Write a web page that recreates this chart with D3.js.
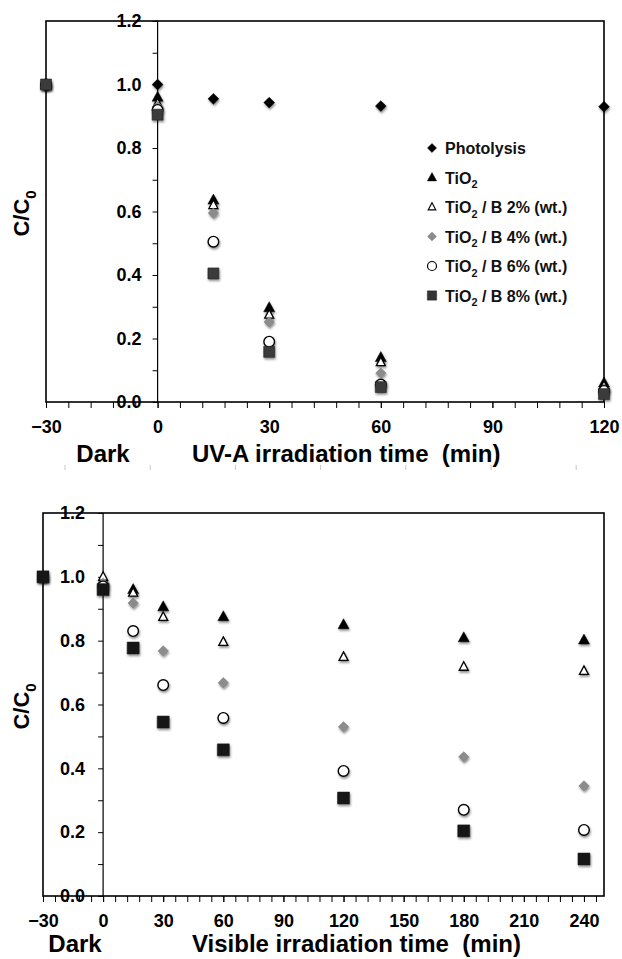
<!DOCTYPE html>
<html>
<head>
<meta charset="utf-8">
<script src="https://cdn.jsdelivr.net/npm/d3@7"></script>
<style>
  body { margin: 0; background: #fff; }
  svg { display: block; font-family: "Liberation Sans", Arial, sans-serif; }
  text { white-space: pre; }
</style>
</head>
<body>
<svg id="chart" width="622" height="959"></svg>
<script>
// series labels (legend shown on the UV-A panel only)
const seriesKeys = ["photo", "tio2", "b2", "b4", "b6", "b8"];
const seriesLabels = ["Photolysis", "TiO|2", "TiO|2| / B 2% (wt.)", "TiO|2| / B 4% (wt.)", "TiO|2| / B 6% (wt.)", "TiO|2| / B 8% (wt.)"];

// UV-A panel
const uvTime = [-30, 0, 15, 30, 60, 120];
const uvPhotolysis = [1.0, 1.0, 0.955, 0.943, 0.932, 0.930];
const uvTiO2 = [1.0, 0.96, 0.636, 0.297, 0.14, 0.06];
const uvB2 = [1.0, 0.94, 0.62, 0.275, 0.125, 0.05];
const uvB4 = [1.0, 0.93, 0.595, 0.252, 0.091, 0.04];
const uvB6 = [1.0, 0.92, 0.505, 0.19, 0.055, 0.035];
const uvB8 = [1.0, 0.905, 0.405, 0.158, 0.047, 0.025];

// Visible panel
const visTime = [-30, 0, 15, 30, 60, 120, 180, 240];
const visTiO2 = [1.0, 0.99, 0.96, 0.906, 0.875, 0.85, 0.809, 0.802];
const visB2 = [1.0, 1.0, 0.95, 0.874, 0.796, 0.749, 0.718, 0.705];
const visB4 = [1.0, 0.98, 0.918, 0.768, 0.668, 0.53, 0.436, 0.345];
const visB6 = [1.0, 0.97, 0.83, 0.661, 0.558, 0.392, 0.27, 0.207];
const visB8 = [1.0, 0.96, 0.777, 0.545, 0.458, 0.307, 0.204, 0.116];

const yTicks = [0, 0.1, 0.2, 0.3, 0.4, 0.5, 0.6, 0.7, 0.8, 0.9, 1.0, 1.1, 1.2];

const svg = d3.select("#chart");
const defs = svg.append("defs");
defs.append("filter").attr("id", "shadow")
    .attr("x", "-50%").attr("y", "-50%").attr("width", "200%").attr("height", "200%")
  .append("feDropShadow")
    .attr("dx", 0.8).attr("dy", 1.8).attr("stdDeviation", 1.1)
    .attr("flood-color", "#000").attr("flood-opacity", 0.45);

// marker shapes
function diamond(r) { return `M0,${-r}L${r},0L0,${r}L${-r},0Z`; }
function triangle(w, h) { return `M0,${-h * 0.6}L${w / 2},${h * 0.4}L${-w / 2},${h * 0.4}Z`; }
function square(s) { return `M${-s/2},${-s/2}h${s}v${s}h${-s}Z`; }
function circle(r) { return `M${-r},0a${r},${r} 0 1,0 ${2*r},0a${r},${r} 0 1,0 ${-2*r},0Z`; }

const styles = {
  photo: { d: diamond(5.4), fill: "#000", stroke: "#000", sw: 0.5 },
  tio2:  { d: triangle(11, 10), fill: "#000", stroke: "#000", sw: 0.5 },
  b2:    { d: triangle(9, 8.5), fill: "#fff", stroke: "#000", sw: 1.3 },
  b4:    { d: diamond(5.2), fill: "#8c8c8c", stroke: "#777", sw: 0.5 },
  b6:    { d: circle(5.3), fill: "#fff", stroke: "#000", sw: 1.4 },
  b8:    { d: square(11), fill: "#333", stroke: "#1a1a1a", sw: 0.5 }
};

function richText(sel, label, size) {
  label.split("|").forEach((part, i) => {
    if (part === "") return;
    const t = sel.append("tspan").text(part);
    if (i % 2 === 1) {
      t.attr("font-size", size * 0.68).attr("dy", size * 0.3);
    } else if (i > 0) {
      t.attr("dy", -size * 0.3);
    }
  });
}

function styleText(a) {
  a.selectAll("text").attr("font-size", 18).attr("font-weight", "bold")
    .attr("font-family", "Liberation Sans, Arial, sans-serif").attr("fill", "#000");
}

function panel(opts) {
  const x = d3.scaleLinear().domain(opts.xDomain).range([opts.left, opts.right]);
  const y = d3.scaleLinear().domain([0, 1.2]).range([opts.bottom, opts.top]);
  const g = svg.append("g");

  // frame
  g.append("rect")
    .attr("x", opts.left).attr("y", opts.top)
    .attr("width", opts.right - opts.left).attr("height", opts.bottom - opts.top)
    .attr("fill", "none").attr("stroke", "#000").attr("stroke-width", 1.6);

  // x axis: minor ticks every 6 min, labels every 30
  const xMinor = d3.range(opts.xDomain[0], opts.xDomain[1] + 0.1, 6);
  g.append("g")
    .attr("transform", `translate(0,${opts.bottom})`)
    .call(d3.axisBottom(x).tickValues(xMinor).tickSize(6).tickFormat(""))
    .call(a => a.select(".domain").remove())
    .call(a => a.selectAll("line").attr("stroke", "#000").attr("stroke-width", 1));
  g.append("g")
    .attr("transform", `translate(0,${opts.bottom})`)
    .call(d3.axisBottom(x).tickValues(opts.xMajor).tickSize(6).tickPadding(12))
    .call(a => a.select(".domain").remove())
    .call(a => a.selectAll("line").attr("stroke", "#000").attr("stroke-width", 1))
    .call(styleText);

  // y axis at t = 0
  g.append("g")
    .attr("transform", `translate(${x(0)},0)`)
    .call(d3.axisLeft(y).tickValues(yTicks).tickSize(5).tickPadding(opts.yPad)
      .tickFormat(d => Math.round(d * 10) % 2 === 0 ? d3.format(".1f")(d) : ""))
    .call(a => a.select(".domain").attr("stroke", "#000").attr("stroke-width", 1.2)
      .attr("d", `M0,${opts.bottom}V${opts.top}`))
    .call(a => a.selectAll("line").attr("stroke", "#000"))
    .call(styleText);

  // y title
  const yt = g.append("text")
    .attr("transform", `translate(${opts.yTitleX},${y(0.6) + 2}) rotate(-90)`)
    .attr("text-anchor", "middle").attr("font-size", 22).attr("font-weight", "bold");
  richText(yt, "C/C|0", 22);

  // x titles
  g.append("text").attr("x", opts.darkX).attr("y", opts.titleY)
    .attr("text-anchor", "middle").attr("font-size", 24).attr("font-weight", "bold")
    .text("Dark");
  g.append("text").attr("x", opts.titleX).attr("y", opts.titleY)
    .attr("font-size", 24).attr("font-weight", "bold")
    .text(opts.title);

  // markers
  opts.series.forEach(s => {
    const st = Object.assign({}, styles[s.key], s.override || {});
    g.append("g").selectAll("path")
      .data(opts.time.map((t, i) => ({ t: t, v: s.values[i] })))
      .join("path")
      .attr("d", st.d)
      .attr("transform", d => `translate(${x(d.t)},${y(d.v)})`)
      .attr("fill", st.fill).attr("stroke", st.stroke).attr("stroke-width", st.sw)
      .attr("filter", "url(#shadow)");
  });
  return { x, y, g };
}

panel({
  xDomain: [-30, 120], xMajor: [-30, 0, 30, 60, 90, 120],
  left: 46, right: 604, top: 21, bottom: 402, yPad: 11,
  yTitleX: 29, darkX: 103, titleX: 192, titleY: 462,
  title: "UV-A irradiation time  (min)",
  time: uvTime,
  series: [
    { key: "photo", values: uvPhotolysis },
    { key: "tio2", values: uvTiO2 },
    { key: "b2", values: uvB2 },
    { key: "b4", values: uvB4 },
    { key: "b6", values: uvB6 },
    { key: "b8", values: uvB8, override: { fill: "#3a3a3a" } }
  ]
});

panel({
  xDomain: [-30, 250], xMajor: [-30, 0, 30, 60, 90, 120, 150, 180, 210, 240],
  left: 43, right: 604, top: 513, bottom: 896, yPad: 13,
  yTitleX: 29, darkX: 75, titleX: 192, titleY: 952,
  title: "Visible irradiation time  (min)",
  time: visTime,
  series: [
    { key: "tio2", values: visTiO2 },
    { key: "b2", values: visB2 },
    { key: "b4", values: visB4 },
    { key: "b6", values: visB6 },
    { key: "b8", values: visB8, override: { fill: "#151515", d: square(12) } }
  ]
});

// legend (UV-A panel)
const legend = svg.append("g").attr("transform", "translate(432,148)");
seriesKeys.forEach((k, i) => {
  const row = legend.append("g").attr("transform", `translate(0,${i * 29.5})`);
  const st = styles[k];
  row.append("path").attr("d", st.d)
    .attr("transform", "scale(0.85)")
    .attr("fill", st.fill).attr("stroke", st.stroke).attr("stroke-width", st.sw);
  const t = row.append("text").attr("x", 13).attr("y", 6)
    .attr("font-size", 16).attr("font-weight", "bold").attr("fill", "#111");
  richText(t, seriesLabels[i], 16);
});

// faint stray marks between the panels
svg.append("g").selectAll("line")
  .data(d3.range(7))
  .join("line")
  .attr("x1", i => 65 + i * 85.2).attr("x2", i => 65 + i * 85.2)
  .attr("y1", 465).attr("y2", 470)
  .attr("stroke", "#c8c8c8").attr("stroke-width", 1);
</script>
</body>
</html>
